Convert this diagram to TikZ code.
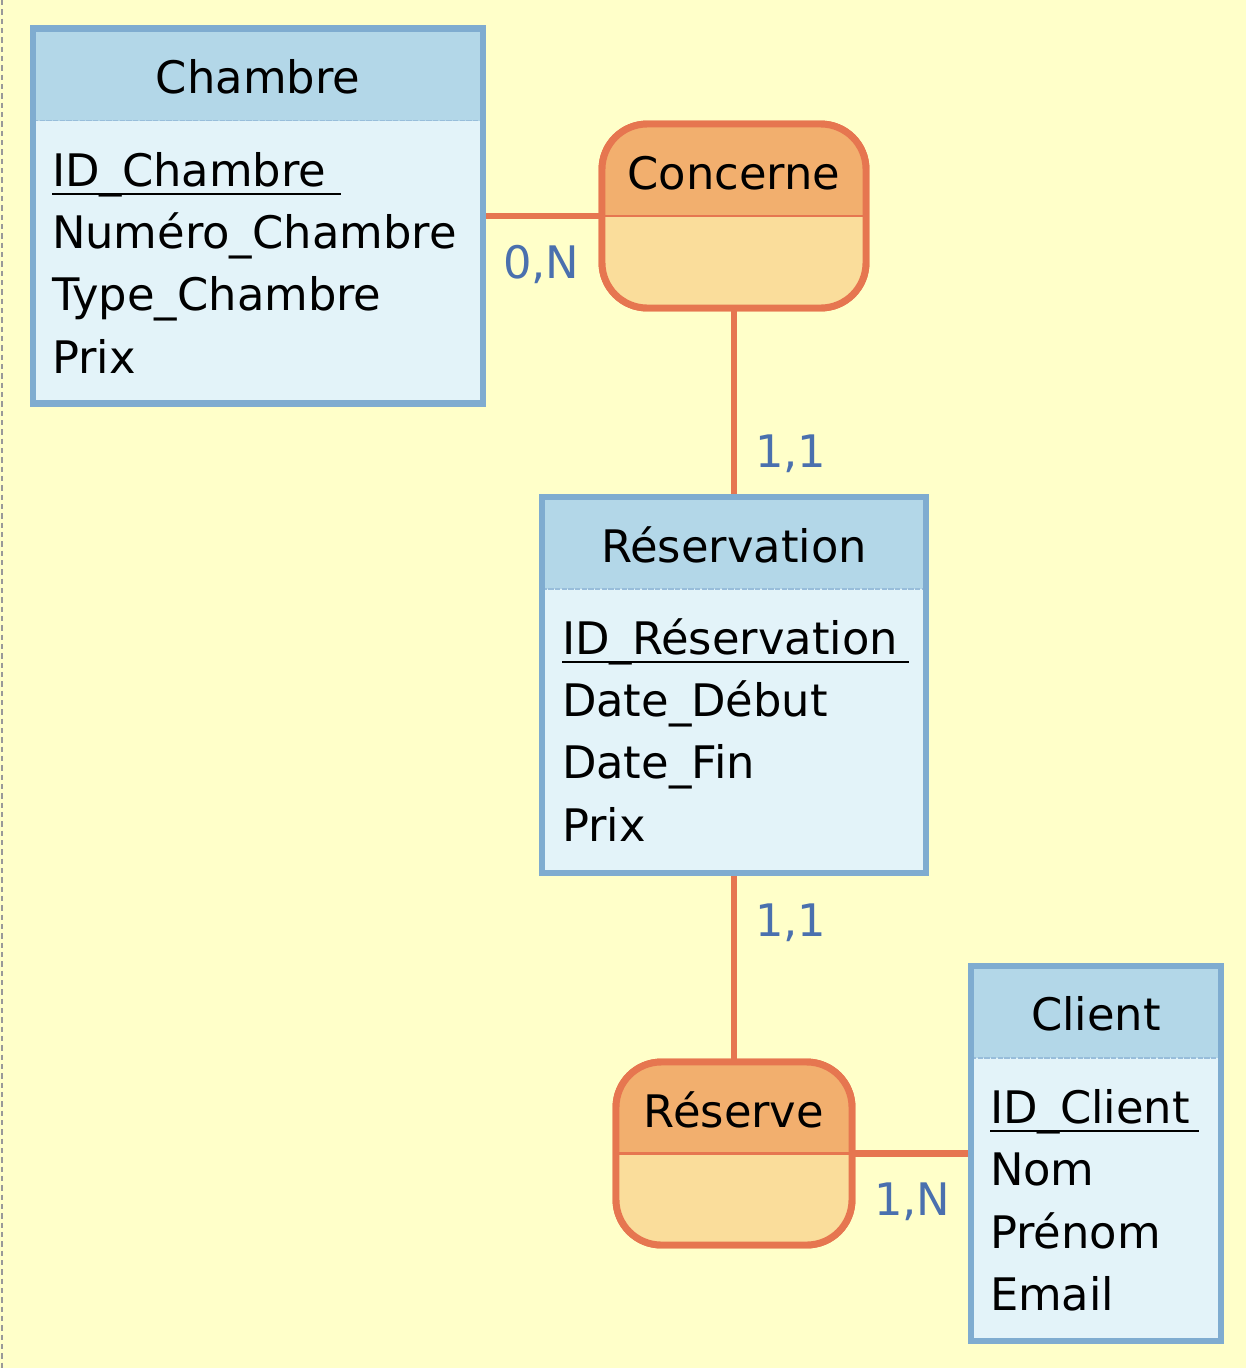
\documentclass[tikz,border=0pt]{standalone}
\usepackage{fontspec}
\setmainfont{DejaVu Sans}
\definecolor{bgc}{HTML}{FFFFC9}
\definecolor{entborder}{HTML}{7FACD0}
\definecolor{enthead}{HTML}{B3D7E8}
\definecolor{entbody}{HTML}{E3F3F9}
\definecolor{relborder}{HTML}{E67650}
\definecolor{reltop}{HTML}{F2AF6E}
\definecolor{relbot}{HTML}{FADD9B}
\definecolor{lblc}{HTML}{4A70AE}
\begin{document}
\begin{tikzpicture}[x=0.75pt,y=-0.75pt,
  txt/.style={inner sep=0pt,outer sep=0pt,font=\fontsize{33.6}{40}\selectfont,text=black},
  title/.style={txt,anchor=base},
  attr/.style={txt,anchor=base west},
  card/.style={inner sep=0pt,outer sep=0pt,font=\fontsize{33.6}{40}\selectfont,text=lblc,anchor=base west},
  entity/.style={draw=entborder,line width=4.6pt,fill=entbody,rectangle,inner sep=0pt,
    path picture={
      \fill[enthead] (path picture bounding box.north west) rectangle ([yshift=-69pt]path picture bounding box.north east);
      \draw[entborder!80!white,line width=1.2pt,dash pattern=on 4pt off 1pt] ([yshift=-69pt]path picture bounding box.north west) -- ([yshift=-69pt]path picture bounding box.north east);
    }},
  relation/.style={draw=relborder,line width=5.2pt,fill=relbot,rectangle,rounded corners=34pt,inner sep=0pt,
    path picture={
      \fill[reltop,sharp corners] (path picture bounding box.north west) rectangle (path picture bounding box.east);
      \draw[relborder,line width=2.2pt,sharp corners] (path picture bounding box.west) -- (path picture bounding box.east);
    }},
  link/.style={draw=relborder,line width=4.6pt},
  uline/.style={draw=black,line width=1.8pt}
]
\useasboundingbox (0,0) rectangle (1246,1368);
\fill[bgc] (0,0) rectangle (1246,1368);
\coordinate (dtop) at (2,0);
\coordinate (dbot) at (2,1368);
\draw[gray!80,line width=1.1pt,dash pattern=on 4pt off 3pt] (dtop) -- (dbot);

% named shapes (positions for the links)
\node[entity,minimum width=337.5pt,minimum height=281.25pt] (chambre) at (258,216) {};
\node[relation,minimum width=198pt,minimum height=138pt] (concerne) at (734,216) {};
\node[entity,minimum width=288.4pt,minimum height=282pt] (reservation) at (734,685) {};
\node[relation,minimum width=177pt,minimum height=137.25pt] (reserve) at (734,1153.5) {};
\node[entity,minimum width=187.5pt,minimum height=281.25pt] (client) at (1096,1153.5) {};

% links
\draw[link] (chambre.east) -- (concerne.west);
\draw[link] (concerne.south) -- (reservation.north);
\draw[link] (reservation.south) -- (reserve.north);
\draw[link] (reserve.east) -- (client.west);

% boxes again, above the link ends
\node[entity,minimum width=337.5pt,minimum height=281.25pt] at (chambre.center) {};
\node[relation,minimum width=198pt,minimum height=138pt] at (concerne.center) {};
\node[entity,minimum width=288.4pt,minimum height=282pt] at (reservation.center) {};
\node[relation,minimum width=177pt,minimum height=137.25pt] at (reserve.center) {};
\node[entity,minimum width=187.5pt,minimum height=281.25pt] at (client.center) {};

% Chambre
\node[title] (tchambre) at (258,93) {Chambre};
\node[attr] (c1) at (52,186) {ID\_Chambre};
\draw[uline] ([yshift=-6pt]c1.base west) -- ([yshift=-6pt,xshift=11pt]c1.base east);
\node[attr] (c2) at (52,248) {Numéro\_Chambre};
\node[attr] (c3) at (52,310) {Type\_Chambre};
\node[attr] (c4) at (52,373) {Prix};

% Concerne
\node[title] (tconcerne) at (734,189) {Concerne};

% Reservation
\node[title] (treservation) at (734,562) {Réservation};
\node[attr] (r1) at (562,654) {ID\_Réservation};
\draw[uline] ([yshift=-6pt]r1.base west) -- ([yshift=-6pt,xshift=8pt]r1.base east);
\node[attr] (r2) at (562,716) {Date\_Début};
\node[attr] (r3) at (562,778) {Date\_Fin};
\node[attr] (r4) at (562,841) {Prix};

% Reserve
\node[title] (treserve) at (734,1127) {Réserve};

% Client
\node[title] (tclient) at (1096,1030) {Client};
\node[attr] (k1) at (990,1123) {ID\_Client};
\draw[uline] ([yshift=-6pt]k1.base west) -- ([yshift=-6pt,xshift=7pt]k1.base east);
\node[attr] (k2) at (990,1185) {Nom};
\node[attr] (k3) at (990,1248) {Prénom};
\node[attr] (k4) at (990,1310) {Email};

% cardinalities
\node[card] (l1) at (503,278) {0,N};
\node[card] (l2) at (755,467) {1,1};
\node[card] (l3) at (755,936) {1,1};
\node[card] (l4) at (874,1215) {1,N};
\end{tikzpicture}
\end{document}
